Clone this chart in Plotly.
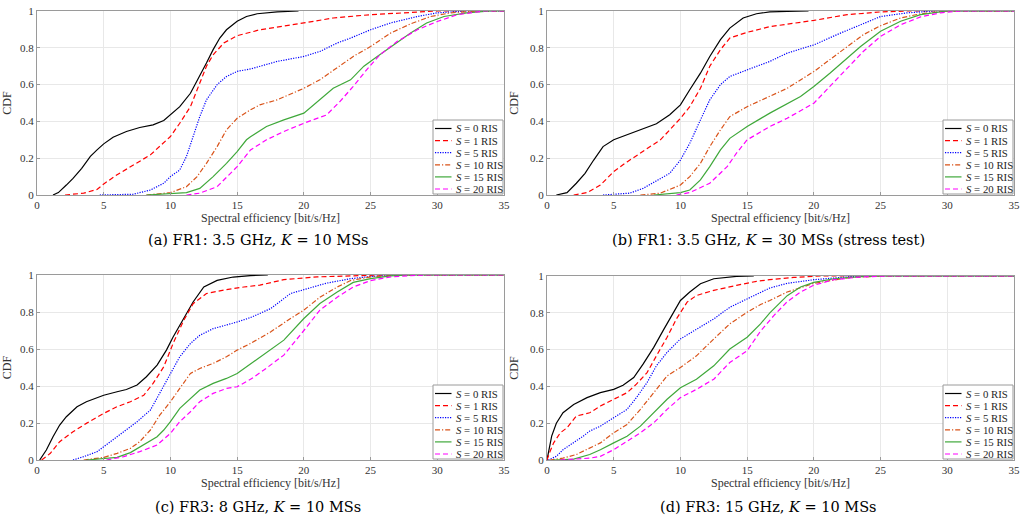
import plotly.graph_objects as go

# ---------------- data ----------------
SERIES = ["S = 0 RIS", "S = 1 RIS", "S = 5 RIS", "S = 10 RIS", "S = 15 RIS", "S = 20 RIS"]
X_TICKS = [0, 5, 10, 15, 20, 25, 30, 35]
Y_TICKS = [0, 0.2, 0.4, 0.6, 0.8, 1]
CAPTIONS = ["(a) FR1: 3.5 GHz, <i>K</i> = 10 MSs",
            "(b) FR1: 3.5 GHz, <i>K</i> = 30 MSs (stress test)",
            "(c) FR3: 8 GHz, <i>K</i> = 10 MSs",
            "(d) FR3: 15 GHz, <i>K</i> = 10 MSs"]

# Panel (a)
A0_X = [1.2, 1.6, 2.2, 2.7, 3.35, 4.0, 4.5, 5.0, 5.7, 6.7, 7.7, 8.7, 9.5, 10.0, 10.7, 11.5, 12.2, 12.7, 13.2, 13.7, 14.2, 15.0, 15.7, 16.5, 18.0, 19.6]
A0_Y = [0, 0.013, 0.054, 0.09, 0.145, 0.21, 0.245, 0.278, 0.314, 0.345, 0.367, 0.381, 0.405, 0.436, 0.48, 0.553, 0.644, 0.717, 0.79, 0.853, 0.898, 0.944, 0.97, 0.985, 0.995, 1]
A1_X = [2.1, 3.5, 4.5, 5.0, 6.0, 7.2, 8.5, 10.0, 10.7, 11.5, 12.2, 12.7, 13.2, 14.0, 15.0, 16.0, 16.7, 20.0, 22.2, 25.0, 27.2, 30.0, 35.0]
A1_Y = [0, 0.01, 0.03, 0.06, 0.11, 0.163, 0.218, 0.318, 0.39, 0.48, 0.608, 0.70, 0.762, 0.826, 0.866, 0.885, 0.898, 0.935, 0.962, 0.98, 0.99, 1, 1]
A2_X = [4.7, 7.2, 8.5, 9.5, 10.0, 10.7, 11.2, 11.7, 12.2, 12.7, 13.5, 14.2, 15.0, 16.0, 16.7, 18.0, 20.0, 21.2, 22.5, 23.5, 25.0, 26.5, 28.5, 30.0, 32.2, 35.0]
A2_Y = [0, 0.004, 0.027, 0.064, 0.10, 0.136, 0.209, 0.318, 0.426, 0.517, 0.60, 0.644, 0.672, 0.685, 0.70, 0.726, 0.753, 0.78, 0.826, 0.853, 0.898, 0.935, 0.97, 0.99, 1, 1]
A3_X = [8.2, 10.0, 11.2, 12.0, 12.7, 13.5, 14.2, 15.0, 16.0, 16.7, 18.0, 19.2, 20.0, 21.2, 22.5, 23.7, 25.0, 26.5, 28.0, 29.5, 31.0, 33.0, 35.0]
A3_Y = [0, 0.013, 0.045, 0.10, 0.172, 0.263, 0.354, 0.417, 0.463, 0.49, 0.517, 0.553, 0.58, 0.626, 0.69, 0.753, 0.807, 0.88, 0.93, 0.97, 0.99, 1, 1]
A4_X = [8.2, 11.2, 12.2, 13.2, 14.2, 15.0, 15.7, 16.0, 17.2, 18.5, 20.0, 21.0, 22.2, 23.5, 24.5, 25.5, 26.7, 28.0, 29.2, 30.5, 32.2, 34.0, 35.0]
A4_Y = [0, 0.013, 0.036, 0.10, 0.172, 0.236, 0.30, 0.317, 0.372, 0.408, 0.445, 0.508, 0.58, 0.626, 0.70, 0.753, 0.816, 0.88, 0.935, 0.97, 0.99, 1, 1]
A5_X = [11.2, 12.2, 13.5, 15.0, 16.0, 17.2, 18.5, 20.0, 21.7, 22.7, 23.7, 24.7, 25.7, 27.0, 28.5, 30.0, 31.5, 33.5, 35.0]
A5_Y = [0, 0.01, 0.045, 0.154, 0.245, 0.30, 0.345, 0.39, 0.435, 0.508, 0.59, 0.68, 0.762, 0.835, 0.898, 0.943, 0.98, 1, 1]

# Panel (b)
B0_X = [0.7, 1.5, 2.2, 2.85, 3.5, 4.2, 5.0, 6.0, 7.2, 8.2, 9.2, 10.0, 10.7, 11.5, 12.2, 13.0, 13.7, 14.7, 15.7, 16.7, 18.0, 19.6]
B0_Y = [0, 0.013, 0.064, 0.118, 0.19, 0.263, 0.30, 0.327, 0.363, 0.387, 0.436, 0.49, 0.572, 0.662, 0.753, 0.844, 0.907, 0.962, 0.985, 0.995, 0.998, 1]
B1_X = [2.0, 3.0, 4.0, 5.0, 6.0, 7.2, 8.5, 9.2, 10.0, 10.7, 11.5, 12.2, 13.0, 13.7, 15.0, 16.0, 16.7, 20.0, 22.5, 25.0, 27.0, 35.0]
B1_Y = [0, 0.013, 0.054, 0.127, 0.18, 0.236, 0.30, 0.354, 0.417, 0.48, 0.58, 0.70, 0.79, 0.853, 0.884, 0.902, 0.915, 0.949, 0.98, 0.995, 1, 1]
B2_X = [4.2, 6.2, 7.2, 8.5, 9.2, 10.0, 10.7, 11.5, 12.2, 13.0, 13.7, 15.0, 16.0, 16.7, 18.0, 20.0, 22.0, 23.5, 25.0, 27.0, 29.0, 35.0]
B2_Y = [0, 0.01, 0.036, 0.09, 0.118, 0.19, 0.281, 0.408, 0.517, 0.60, 0.644, 0.68, 0.705, 0.726, 0.771, 0.816, 0.88, 0.925, 0.97, 0.99, 1, 1]
B3_X = [7.0, 8.5, 10.0, 10.7, 11.5, 12.2, 13.0, 13.7, 15.0, 16.0, 16.7, 18.0, 20.0, 21.2, 22.5, 23.7, 25.0, 26.5, 28.0, 30.0, 35.0]
B3_Y = [0, 0.01, 0.054, 0.10, 0.172, 0.263, 0.354, 0.426, 0.48, 0.512, 0.535, 0.58, 0.671, 0.735, 0.807, 0.871, 0.92, 0.962, 0.985, 1, 1]
B4_X = [8.0, 10.0, 10.7, 11.5, 12.2, 13.0, 13.7, 15.0, 16.0, 16.7, 19.0, 20.0, 21.2, 22.5, 23.5, 25.0, 26.5, 28.0, 30.0, 35.0]
B4_Y = [0, 0.013, 0.027, 0.082, 0.154, 0.245, 0.308, 0.372, 0.415, 0.445, 0.535, 0.59, 0.662, 0.744, 0.807, 0.89, 0.944, 0.98, 1, 1]
B5_X = [9.7, 10.7, 12.2, 13.5, 14.2, 15.0, 16.0, 16.7, 18.0, 20.0, 21.2, 22.5, 23.7, 25.0, 26.5, 28.0, 29.5, 31.0, 35.0]
B5_Y = [0, 0.013, 0.064, 0.154, 0.227, 0.30, 0.342, 0.372, 0.417, 0.499, 0.59, 0.69, 0.78, 0.862, 0.925, 0.968, 0.99, 1, 1]

# Panel (c)
C0_X = [0.2, 0.7, 1.2, 1.7, 2.2, 3.0, 3.7, 5.0, 6.0, 6.7, 7.5, 8.2, 9.0, 9.7, 10.2, 11.0, 11.7, 12.5, 13.5, 14.7, 16.0, 17.3]
C0_Y = [0, 0.054, 0.126, 0.189, 0.234, 0.288, 0.315, 0.35, 0.369, 0.381, 0.405, 0.45, 0.513, 0.594, 0.665, 0.764, 0.854, 0.935, 0.971, 0.989, 0.997, 1]
C1_X = [0.35, 1.0, 1.7, 2.7, 3.7, 5.0, 6.0, 7.0, 8.0, 8.7, 9.5, 10.2, 11.0, 11.7, 12.7, 14.2, 15.5, 16.7, 18.5, 21.0, 23.5, 26.0, 35.0]
C1_Y = [0, 0.036, 0.099, 0.153, 0.198, 0.252, 0.288, 0.315, 0.35, 0.414, 0.504, 0.63, 0.755, 0.845, 0.90, 0.921, 0.935, 0.945, 0.975, 0.99, 0.995, 1, 1]
C2_X = [2.7, 3.5, 4.5, 5.5, 6.5, 7.5, 8.5, 9.2, 10.0, 10.7, 11.5, 12.2, 13.2, 14.2, 15.0, 16.0, 17.5, 19.0, 20.0, 21.7, 23.5, 25.0, 27.0, 35.0]
C2_Y = [0, 0.018, 0.045, 0.099, 0.153, 0.207, 0.27, 0.36, 0.468, 0.558, 0.63, 0.674, 0.71, 0.728, 0.746, 0.77, 0.818, 0.90, 0.921, 0.956, 0.98, 0.992, 1, 1]
C3_X = [3.5, 5.0, 6.0, 7.0, 7.7, 8.5, 9.2, 10.0, 10.7, 11.5, 12.2, 13.2, 14.2, 15.0, 16.0, 17.5, 19.0, 20.0, 21.2, 22.5, 23.5, 25.0, 27.0, 35.0]
C3_Y = [0, 0.014, 0.036, 0.063, 0.099, 0.162, 0.243, 0.315, 0.387, 0.468, 0.495, 0.522, 0.558, 0.594, 0.63, 0.692, 0.765, 0.81, 0.88, 0.935, 0.97, 0.99, 1, 1]
C4_X = [3.7, 6.0, 7.0, 8.0, 9.0, 9.5, 10.0, 10.7, 11.5, 12.2, 13.2, 14.2, 15.0, 16.0, 17.0, 18.5, 20.0, 21.2, 22.5, 23.7, 25.0, 26.5, 28.0, 35.0]
C4_Y = [0, 0.014, 0.04, 0.081, 0.126, 0.162, 0.207, 0.279, 0.333, 0.378, 0.414, 0.441, 0.468, 0.52, 0.567, 0.648, 0.765, 0.846, 0.908, 0.96, 0.98, 0.995, 1, 1]
C5_X = [5.2, 6.5, 7.7, 9.0, 10.0, 10.7, 11.5, 12.2, 13.2, 14.2, 15.0, 16.0, 17.0, 18.5, 20.0, 21.2, 22.5, 23.7, 25.0, 26.5, 29.0, 35.0]
C5_Y = [0, 0.018, 0.045, 0.081, 0.144, 0.207, 0.261, 0.315, 0.36, 0.387, 0.396, 0.436, 0.486, 0.567, 0.70, 0.81, 0.88, 0.935, 0.97, 0.99, 1, 1]

# Panel (d)
D0_X = [0.0, 0.18, 0.35, 0.7, 1.2, 2.0, 3.0, 4.0, 5.0, 5.7, 6.5, 7.2, 8.0, 8.7, 9.5, 10.0, 10.7, 11.5, 12.5, 14.2, 15.5]
D0_Y = [0, 0.075, 0.13, 0.20, 0.257, 0.302, 0.339, 0.366, 0.384, 0.406, 0.448, 0.521, 0.612, 0.703, 0.803, 0.867, 0.913, 0.958, 0.985, 0.998, 1]
D1_X = [0.0, 0.18, 0.5, 1.0, 1.5, 2.2, 3.2, 4.0, 5.0, 6.0, 6.7, 7.5, 8.2, 9.0, 9.7, 10.5, 11.2, 12.5, 14.2, 15.7, 16.7, 18.5, 20.5, 35.0]
D1_Y = [0, 0.038, 0.093, 0.148, 0.175, 0.239, 0.257, 0.293, 0.33, 0.366, 0.412, 0.475, 0.566, 0.667, 0.767, 0.858, 0.894, 0.922, 0.949, 0.971, 0.98, 0.992, 1, 1]
D2_X = [0.1, 0.7, 1.2, 2.0, 2.7, 3.2, 4.0, 5.0, 6.0, 6.7, 7.5, 8.2, 9.0, 10.0, 11.2, 12.5, 13.7, 15.0, 16.0, 16.7, 18.0, 20.0, 22.5, 24.0, 35.0]
D2_Y = [0, 0.02, 0.056, 0.093, 0.129, 0.157, 0.184, 0.23, 0.275, 0.339, 0.421, 0.512, 0.585, 0.658, 0.712, 0.767, 0.83, 0.876, 0.913, 0.935, 0.96, 0.98, 0.995, 1, 1]
D3_X = [0.2, 1.2, 2.2, 3.2, 4.0, 5.0, 6.0, 7.0, 8.0, 9.0, 10.0, 11.2, 12.5, 13.7, 15.0, 16.0, 16.7, 18.0, 20.0, 22.5, 25.0, 35.0]
D3_Y = [0, 0.01, 0.03, 0.066, 0.093, 0.148, 0.193, 0.275, 0.366, 0.457, 0.503, 0.566, 0.658, 0.74, 0.803, 0.845, 0.867, 0.913, 0.96, 0.99, 1, 1]
D4_X = [0.5, 2.0, 3.2, 4.0, 5.0, 6.0, 7.0, 8.0, 9.0, 10.0, 11.2, 12.5, 13.7, 15.0, 16.0, 16.7, 18.0, 19.0, 20.0, 21.5, 23.5, 25.0, 35.0]
D4_Y = [0, 0.005, 0.03, 0.056, 0.093, 0.129, 0.184, 0.257, 0.33, 0.393, 0.439, 0.512, 0.603, 0.667, 0.74, 0.80, 0.893, 0.94, 0.965, 0.985, 0.997, 1, 1]
D5_X = [1.0, 2.2, 3.2, 4.0, 5.0, 6.0, 7.0, 8.0, 9.0, 10.0, 11.2, 12.5, 13.7, 15.0, 16.0, 17.0, 18.0, 19.0, 20.0, 21.5, 23.5, 25.5, 35.0]
D5_Y = [0, 0.005, 0.01, 0.02, 0.056, 0.102, 0.148, 0.202, 0.275, 0.339, 0.384, 0.439, 0.53, 0.594, 0.70, 0.785, 0.86, 0.913, 0.95, 0.98, 0.995, 1, 1]

PANELS = [
    [(A0_X, A0_Y), (A1_X, A1_Y), (A2_X, A2_Y), (A3_X, A3_Y), (A4_X, A4_Y), (A5_X, A5_Y)],
    [(B0_X, B0_Y), (B1_X, B1_Y), (B2_X, B2_Y), (B3_X, B3_Y), (B4_X, B4_Y), (B5_X, B5_Y)],
    [(C0_X, C0_Y), (C1_X, C1_Y), (C2_X, C2_Y), (C3_X, C3_Y), (C4_X, C4_Y), (C5_X, C5_Y)],
    [(D0_X, D0_Y), (D1_X, D1_Y), (D2_X, D2_Y), (D3_X, D3_Y), (D4_X, D4_Y), (D5_X, D5_Y)],
]

# ---------------- styles ----------------
COLORS = ["#000000", "#ff0000", "#0000ff", "#d95319", "#3fa83a", "#ff00ff"]
DASHES = ["solid", "5px,3px", "1.2px,1.3px", "5px,2px,1.2px,2px", "solid", "5px,3px"]
FONT = "Liberation Serif, Times New Roman, serif"
CAP_FONT = "DejaVu Serif, serif"
AX_COLOR = "#9a9a9a"

W, H = 1025, 521
# plot areas in pixels: (left, right, top, bottom)
BOXES = [(37, 504, 11, 195), (547, 1014, 11, 195), (37, 504, 275, 460), (547, 1014, 276, 460)]
CAP_POS = [(258, 240), (768, 240), (258, 507), (768, 507)]
LEG_W, LEG_H, LEG_ROW = 70, 74, 12.1


def px(x):
    return x / W


def py(y):
    return 1 - y / H


fig = go.Figure()
layout = dict(
    width=W, height=H, margin=dict(l=0, r=0, t=0, b=0),
    paper_bgcolor="white", plot_bgcolor="white",
    font=dict(family=FONT, size=11, color="#262626"),
    showlegend=False,
    annotations=[], shapes=[],
)

for p, series in enumerate(PANELS):
    n = "" if p == 0 else str(p + 1)
    for i, (xs, ys) in enumerate(series):
        fig.add_trace(go.Scatter(
            x=xs, y=ys, mode="lines", name=SERIES[i],
            line=dict(color=COLORS[i], dash=DASHES[i], width=1.2),
            xaxis="x" + n, yaxis="y" + n,
        ))
    l, r, t, b = BOXES[p]
    common = dict(showline=True, mirror=True, linecolor=AX_COLOR, linewidth=1,
                  ticks="inside", ticklen=3, tickcolor=AX_COLOR,
                  showgrid=True, gridcolor="#e8e8e8", gridwidth=1, zeroline=False,
                  automargin=False, tickfont=dict(family=FONT, size=11, color="#333333"))
    layout["xaxis" + n] = dict(common, domain=[px(l), px(r)], range=[0, 35], tickvals=X_TICKS,
                               anchor="y" + n,
                               title=dict(text="Spectral efficiency [bit/s/Hz]", standoff=3,
                                          font=dict(family=FONT, size=12, color="#333333")))
    layout["yaxis" + n] = dict(common, domain=[py(b), py(t)], range=[0, 1], tickvals=Y_TICKS,
                               anchor="x" + n,
                               title=dict(text="CDF", standoff=8,
                                          font=dict(family=FONT, size=12, color="#333333")))

    # legend box (bottom-right, inside the axes)
    lr, lb = r - 1, b - 1
    ll, lt = lr - LEG_W, lb - LEG_H
    layout["shapes"].append(dict(type="rect", xref="paper", yref="paper",
                                 x0=px(ll), x1=px(lr), y0=py(lb), y1=py(lt),
                                 fillcolor="white", line=dict(color=AX_COLOR, width=1), layer="above"))
    for i, name in enumerate(SERIES):
        yc = lt + 8.5 + i * LEG_ROW
        layout["shapes"].append(dict(type="line", xref="paper", yref="paper",
                                     x0=px(ll + 2), x1=px(ll + 18.5), y0=py(yc), y1=py(yc),
                                     line=dict(color=COLORS[i], dash=DASHES[i], width=1.2),
                                     layer="above"))
        layout["annotations"].append(dict(
            text=name.replace("S", "<i>S</i>", 1), x=px(ll + 20.5), y=py(yc),
            xref="paper", yref="paper", xanchor="left", yanchor="middle", showarrow=False,
            font=dict(family=FONT, size=10.8, color="#262626")))

    cx, cy = CAP_POS[p]
    layout["annotations"].append(dict(
        text=CAPTIONS[p], x=px(cx), y=py(cy), xref="paper", yref="paper",
        xanchor="center", yanchor="middle", showarrow=False,
        font=dict(family=CAP_FONT, size=14.5, color="#000000")))

fig.update_layout(**layout)
fig.write_html("out.html")
